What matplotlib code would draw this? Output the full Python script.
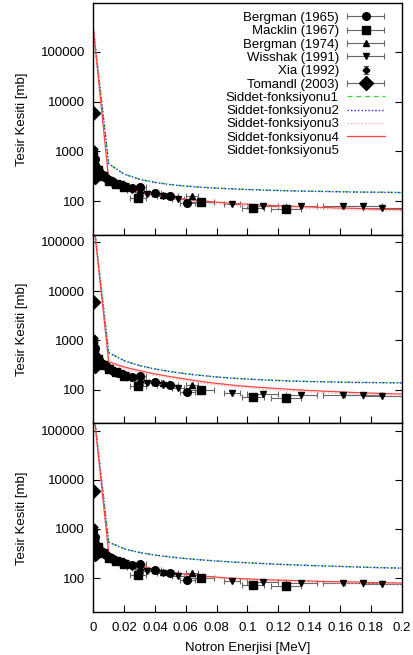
import matplotlib
matplotlib.use("Agg")
import matplotlib.pyplot as plt
from matplotlib.lines import Line2D
from matplotlib.container import ErrorbarContainer
from matplotlib.legend_handler import HandlerErrorbar
from matplotlib.ticker import FixedLocator, NullLocator, FuncFormatter

plt.rcParams['font.family'] = ['Liberation Sans', 'DejaVu Sans']
plt.rcParams['font.size'] = 9.5

# --- deney verileri (MeV, mb) ---
bergman65_E = [0.001, 0.002, 0.004, 0.006, 0.008, 0.010, 0.013, 0.016, 0.020, 0.025, 0.030, 0.040, 0.050, 0.061]
bergman65_s = [700, 480, 400, 330, 300, 270, 240, 220, 200, 185, 190, 145, 126, 92]
bergman65_dE = [0.0005, 0.0005, 0.001, 0.001, 0.001, 0.002, 0.002, 0.002, 0.003, 0.003, 0.004, 0.004, 0.005, 0.005]

macklin67_E = [0.003, 0.006, 0.010, 0.015, 0.020, 0.029, 0.070, 0.1035, 0.125]
macklin67_s = [420, 320, 260, 225, 190, 118, 98, 72, 69]
macklin67_dE = [0.001, 0.001, 0.002, 0.002, 0.003, 0.005, 0.008, 0.007, 0.010]

bergman74_E = [0.0003, 0.005, 0.010, 0.020, 0.030, 0.045, 0.064]
bergman74_s = [1000, 340, 270, 205, 165, 135, 128]
bergman74_dE = [0.0002, 0.001, 0.002, 0.003, 0.003, 0.004, 0.004]

wisshak91_E = [0.005, 0.008, 0.012, 0.018, 0.025, 0.035, 0.045, 0.055, 0.090, 0.110, 0.135, 0.162, 0.175, 0.1875]
wisshak91_s = [350, 300, 250, 220, 170, 140, 125, 110, 87, 82, 79, 80, 79, 74]
wisshak91_dE = [0.001, 0.001, 0.002, 0.002, 0.003, 0.003, 0.004, 0.004, 0.005, 0.010, 0.010, 0.013, 0.012, 0.0125]

xia92_E = [0.0002, 0.0004, 0.0006, 0.0008, 0.0010, 0.0013, 0.0016, 0.0020, 0.0025, 0.0030,
           0.0040, 0.0050, 0.0060, 0.0070, 0.0080, 0.0090, 0.0100]
xia92_s = [1100, 950, 800, 680, 600, 540, 480, 440, 420, 400, 380, 360, 340, 320, 310, 300, 285]

tomandl03_E = [0.0001, 0.0005, 0.0010, 0.0020]
tomandl03_s = [6000, 350, 310, 330]

# --- siddet fonksiyonlari (her panel icin) ---
fit_E = [0.00, 0.01, 0.02, 0.03, 0.04, 0.05, 0.06, 0.07, 0.08, 0.09, 0.10,
         0.11, 0.12, 0.13, 0.14, 0.15, 0.16, 0.17, 0.18, 0.19, 0.20]

ust_f1 = [300000, 570, 352, 277, 240, 217, 202, 192, 184, 178, 173, 169, 165, 162, 160, 158, 156, 154, 153, 152, 150]
ust_f2 = [300000, 565, 350, 276, 239, 216, 201, 191, 183, 177, 172, 168, 164, 161, 159, 157, 155, 153, 152, 151, 149]
ust_f3 = [300000, 255, 178, 146, 127, 113, 103, 96, 90, 85, 81, 78, 75, 73, 71, 70, 68, 67, 66, 65, 64]
ust_f4 = [300000, 275, 190, 155, 135, 120, 110, 102, 96, 91, 87, 84, 81, 79, 77, 75, 73, 72, 70, 69, 68]

orta_f1 = [300000, 570, 390, 310, 265, 235, 212, 196, 183, 173, 166, 160, 155, 151, 148, 146, 144, 142, 141, 140, 139]
orta_f2 = [300000, 565, 388, 309, 264, 234, 211, 195, 182, 172, 165, 159, 154, 150, 147, 145, 143, 141, 140, 139, 138]
orta_f3 = [300000, 345, 270, 228, 196, 172, 154, 138, 126, 116, 109, 103, 98, 94, 90, 87, 85, 82, 80, 78, 76]
orta_f4 = [300000, 370, 290, 245, 210, 185, 165, 148, 135, 125, 117, 111, 106, 101, 97, 94, 91, 88, 86, 84, 82]

alt_f1 = [300000, 540, 396, 333, 295, 269, 250, 235, 223, 213, 205, 198, 191, 186, 181, 177, 173, 169, 165, 162, 160]
alt_f2 = [300000, 536, 394, 331, 293, 268, 249, 234, 222, 212, 204, 197, 190, 185, 180, 176, 172, 168, 164, 161, 159]
alt_f3 = [300000, 300, 215, 170, 142, 125, 113, 105, 99, 94, 91, 88, 86, 84, 82, 80, 79, 78, 77, 76, 75]
alt_f4 = [300000, 324, 230, 180, 150, 132, 120, 111, 104, 99, 96, 93, 91, 89, 87, 85, 84, 83, 81, 80, 79]

paneller = [
    (ust_f1, ust_f2, ust_f3, ust_f4, (21, 9.5e5)),
    (orta_f1, orta_f2, orta_f3, orta_f4, (21, 1.37e5)),
    (alt_f1, alt_f2, alt_f3, alt_f4, (20, 1.43e5)),
]

ytick_vals = [100, 1000, 10000, 100000]
xtick_vals = [0, 0.02, 0.04, 0.06, 0.08, 0.1, 0.12, 0.14, 0.16, 0.18, 0.2]

W, H = 413, 655
fig = plt.figure(figsize=(W / 100, H / 100), dpi=100)

# panel sinirlari (piksel)
x0, x1 = 93.3, 401.7
sinirlar = [(3.3, 235.0), (235.0, 423.3), (423.3, 612.3)]

err_kw = dict(color='black', ecolor='0.4', elinewidth=0.8, capsize=2, capthick=0.8, linestyle='none')

for i, ((f1, f2, f3, f4, ylim), (ytop, ybot)) in enumerate(zip(paneller, sinirlar)):
    ax = fig.add_axes([x0 / W, 1 - ybot / H, (x1 - x0) / W, (ybot - ytop) / H])
    ax.set_yscale('log')

    h1 = ax.errorbar(bergman65_E, bergman65_s, xerr=bergman65_dE, marker='o', markersize=5.5, **err_kw)
    h2 = ax.errorbar(macklin67_E, macklin67_s, xerr=macklin67_dE, marker='s', markersize=5.5, **err_kw)
    h3 = ax.errorbar(bergman74_E, bergman74_s, xerr=bergman74_dE, marker='^', markersize=5, **err_kw)
    h4 = ax.errorbar(wisshak91_E, wisshak91_s, xerr=wisshak91_dE, marker='v', markersize=5, **err_kw)
    h5 = ax.errorbar(xia92_E, xia92_s, yerr=[0] * len(xia92_s), marker='D', markersize=3.5, **err_kw)
    h6 = ax.errorbar(tomandl03_E, tomandl03_s, xerr=[0.0002] * len(tomandl03_s), marker='D', markersize=7, **err_kw)

    l1, = ax.plot(fit_E, f1, color='#33dd33', linestyle=(0, (4, 3)), linewidth=0.9)
    l2, = ax.plot(fit_E, f2, color='#2222ee', linestyle=(0, (1, 1.5)), linewidth=1.0)
    l3, = ax.plot(fit_E, f3, color='#ffaaaa', linestyle=(0, (1, 1.5)), linewidth=1.0)
    l4, = ax.plot(fit_E, f4, color='#ff4444', linestyle='-', linewidth=0.9)
    l5 = Line2D([], [], linestyle='none')

    ax.set_xlim(0, 0.2)
    ax.set_ylim(*ylim)
    ax.yaxis.set_major_locator(FixedLocator(ytick_vals))
    ax.yaxis.set_minor_locator(NullLocator())
    ax.yaxis.set_major_formatter(FuncFormatter(lambda v, p: '%d' % v))
    ax.xaxis.set_major_locator(FixedLocator(xtick_vals))
    ax.xaxis.set_major_formatter(FuncFormatter(lambda v, p: '%g' % v))
    ax.tick_params(direction='in', length=5, width=0.8, right=True, top=False, labelsize=9.5)
    ax.tick_params(axis='y', pad=6)
    ax.tick_params(axis='x', pad=7)
    for sp in ax.spines.values():
        sp.set_linewidth(1.0)
    ax.set_ylabel('Tesir Kesiti [mb]', fontsize=9.5)
    ax.yaxis.set_label_coords(-0.212, 0.5)

    if i < 2:
        ax.tick_params(labelbottom=False)
    else:
        ax.set_xlabel('Notron Enerjisi [MeV]', fontsize=9.5, labelpad=6)

    if i == 0:
        ax.legend([h1, h2, h3, h4, h5, h6, l1, l2, l3, l4, l5],
                  ['Bergman (1965)', 'Macklin (1967)', 'Bergman (1974)', 'Wisshak (1991)',
                   'Xia (1992)', 'Tomandl (2003)', 'Siddet-fonksiyonu1', 'Siddet-fonksiyonu2',
                   'Siddet-fonksiyonu3', 'Siddet-fonksiyonu4', 'Siddet-fonksiyonu5'],
                  loc='upper right', bbox_to_anchor=(0.946, 0.963), frameon=False,
                  markerfirst=False, borderpad=0, borderaxespad=0, labelspacing=0.08,
                  handlelength=2.9, handletextpad=0.6, fontsize=9.5,
                  handler_map={ErrorbarContainer: HandlerErrorbar(xerr_size=1.4, yerr_size=0.3)})

fig.savefig('out.png', dpi=100)
